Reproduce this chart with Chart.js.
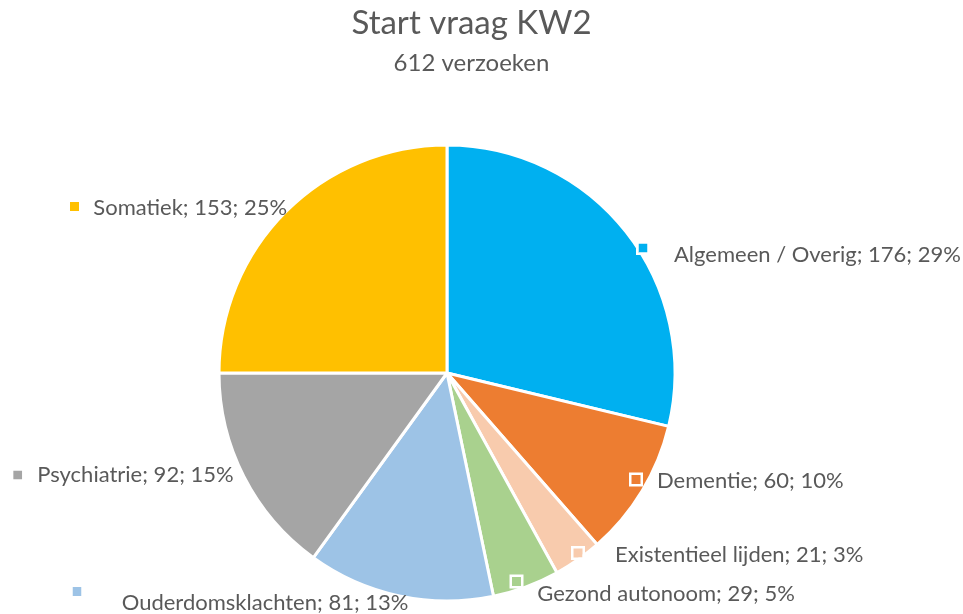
<!DOCTYPE html>
<html>
<head>
<meta charset="utf-8">
<script src="https://cdn.jsdelivr.net/npm/chart.js@4/dist/chart.umd.min.js"></script>
<style>
  html, body { margin: 0; padding: 0; background: #ffffff; }
  #c { display: block; }
</style>
</head>
<body>
<canvas id="c" width="963" height="614"></canvas>
<script>
// ---- data ----
const chartTitle = "Start vraag KW2";
const chartSubtitle = "612 verzoeken";
const categories = ["Algemeen / Overig", "Dementie", "Existentieel lijden", "Gezond autonoom", "Ouderdomsklachten", "Psychiatrie", "Somatiek"];
const counts = [176, 60, 21, 29, 81, 92, 153];
const colors = ["#00B0F0", "#ED7D31", "#F8CBAD", "#A9D18E", "#9DC3E6", "#A5A5A5", "#FFC000"];

// ---- label placement (offsets from pie centre) ----
const markerOffsets = [[196, -125], [189, 106.5], [131, 180], [69.5, 208.5], [-370, 218.5], [-429.3, 102], [-372.5, -166.5]];
const textOffsets = [[227, -111], [210, 115], [168, 188.7], [90.3, 228.3], [-325.3, 237], [-409.7, 109.3], [-353.7, -158]];

const FONT = "Lato, 'Open Sans', sans-serif";
const TEXT_COLOR = "#595959";

const labelPlugin = {
  id: "excelLabels",
  afterDraw(chart) {
    const ctx = chart.ctx;
    const meta = chart.getDatasetMeta(0);
    const cx = meta.data[0].x, cy = meta.data[0].y;
    const total = counts.reduce((a, b) => a + b, 0);
    ctx.save();
    // title
    ctx.fillStyle = TEXT_COLOR;
    ctx.textAlign = "center";
    ctx.textBaseline = "alphabetic";
    ctx.font = "33px " + FONT;
    ctx.fillText(chartTitle, 471.5, 34.3);
    ctx.font = "24px " + FONT;
    ctx.fillText(chartSubtitle, 471.5, 71);
    // data labels
    ctx.textAlign = "left";
    ctx.font = "22px " + FONT;
    meta.data.forEach((arc, i) => {
      const pct = Math.round(counts[i] / total * 100);
      const mx = cx + markerOffsets[i][0], my = cy + markerOffsets[i][1];
      const s = 9;
      ctx.fillStyle = colors[i];
      ctx.fillRect(mx - s / 2, my - s / 2, s, s);
      ctx.strokeStyle = "#ffffff";
      ctx.lineWidth = 2.5;
      ctx.strokeRect(mx - s / 2 - 1.25, my - s / 2 - 1.25, s + 2.5, s + 2.5);
      ctx.fillStyle = TEXT_COLOR;
      ctx.fillText(categories[i] + "; " + counts[i] + "; " + pct + "%", cx + textOffsets[i][0], cy + textOffsets[i][1]);
    });
    ctx.restore();
  }
};

new Chart(document.getElementById("c"), {
  type: "pie",
  data: {
    labels: categories,
    datasets: [{
      data: counts,
      backgroundColor: colors,
      borderColor: "#ffffff",
      borderWidth: 3
    }]
  },
  options: {
    responsive: false,
    animation: false,
    radius: 228,
    layout: { padding: { left: 212, right: 281, top: 138, bottom: 6 } },
    plugins: {
      legend: { display: false },
      title: { display: false },
      tooltip: { enabled: false }
    }
  },
  plugins: [labelPlugin]
});
</script>
</body>
</html>
